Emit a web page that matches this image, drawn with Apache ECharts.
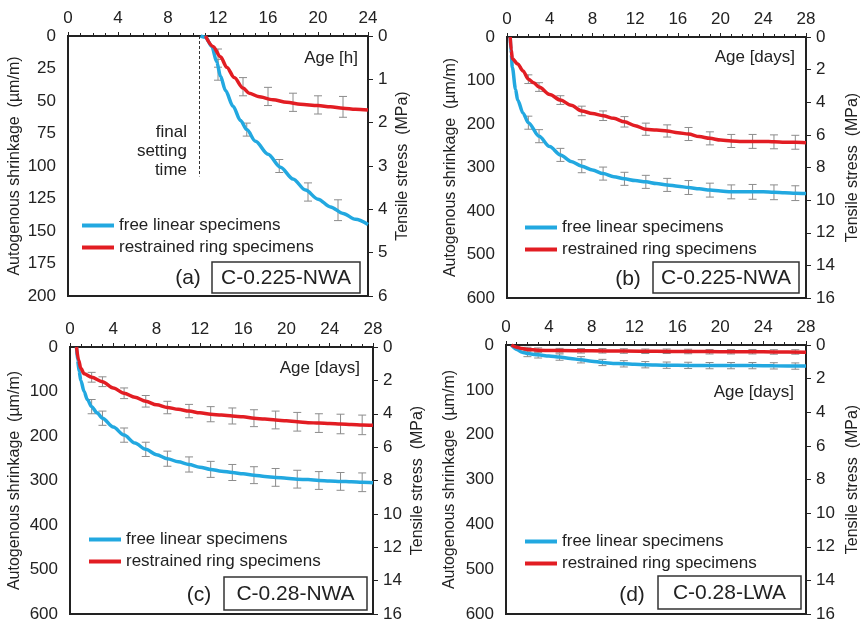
<!DOCTYPE html>
<html>
<head>
<meta charset="utf-8">
<script src="https://cdn.jsdelivr.net/npm/echarts@6/dist/echarts.min.js"></script>
<style>html,body{margin:0;padding:0;background:#fff}#c{width:862px;height:623px}</style>
</head>
<body>
<div id="c"></div>
<script>
// ---------- DATA ----------
const seriesNames = ['free linear specimens', 'restrained ring specimens'];
const panelLabels = ['(a)', '(b)', '(c)', '(d)'];
const mixLabels = ['C-0.225-NWA', 'C-0.225-NWA', 'C-0.28-NWA', 'C-0.28-LWA'];
const ageLabels = ['Age [h]', 'Age [days]', 'Age [days]', 'Age [days]'];
const leftAxisName = 'Autogenous shrinkage  (µm/m)';
const rightAxisName = 'Tensile stress  (MPa)';
const settingText = 'final\nsetting\ntime';
const settingTime = [10.5, 108]; // [age h, extent of dashed line in µm/m]

// Axis ranges: [max, interval]
const ageAxis = [[24, 4], [28, 4], [28, 4], [28, 4]];
const shrinkAxis = [[200, 25], [600, 100], [600, 100], [600, 100]];
const stressAxis = [[6, 1], [16, 2], [16, 2], [16, 2]];

// (a) C-0.225-NWA, age in hours  [age, shrinkage]
const freeA = [[10.6,0],[11.0,1],[11.5,8],[11.9,20],[12.2,31],[12.6,42],[13.2,54],[13.8,65],[14.3,72],[15.0,81],[16.0,91],[17.0,101],[18.0,110],[19.0,118.5],[20.0,125.5],[21.0,131.5],[22.0,136.5],[23.0,141],[24,145]];
const ringA = [[11.0,0],[11.6,8],[12.2,16],[12.7,24],[13.3,32],[14.0,40],[14.5,44],[15.2,46.5],[16.4,49],[17.5,51],[18.6,52.5],[20,53.5],[21,54.5],[22,55.5],[23,56.3],[24,57]];
// error bars [age, mean, half-range]
const freeErrA = [[12.0,26,8],[14.3,72,5],[16.9,100,5],[19.2,120,7],[21.6,134,8]];
const ringErrA = [[12.0,17,7],[14.0,39,7],[16.0,46.5,7],[18.0,51,7],[20.0,53,7],[22.0,54.5,8]];

// (b) C-0.225-NWA, age in days
const freeB = [[0.3,0],[0.4,40],[0.5,70],[0.8,120],[1,145],[1.5,175],[2,197],[3,228],[4,252],[5,271],[6,286],[7,297],[8,306],[9,314],[10,321],[11,326],[12,330],[13,333],[14,337],[15,340],[16,343],[17,346],[18,349],[19,352],[20,354],[21,356],[22,356],[23,356],[24,356],[25,357],[26,358],[27,359],[28,360]];
const ringB = [[0.3,0],[0.4,30],[0.5,50],[1,62],[1.5,78],[2,97],[2.5,105],[3,115],[4,132],[5,145],[6,157],[7,170],[8,176],[9,181],[10,187],[11,195],[12,204],[13,212],[14,214],[15,216],[16,220],[17,223],[18,229],[19,233],[20,237],[21,239],[22,240],[23,240],[24,240],[25,241],[26,242],[27,242],[28,243]];
const freeErrB = [[2,197,15],[3,228,15],[5,271,15],[7,297,15],[9,314,15],[11,326,15],[13,333,15],[15,340,15],[17,346,16],[19,352,16],[21,356,16],[23,356,17],[25,357,17],[27,359,17]];
const ringErrB = [[2,97,10],[3,115,10],[5,145,10],[7,170,11],[9,181,11],[11,195,12],[13,212,14],[15,216,14],[17,223,15],[19,233,15],[21,239,15],[23,240,16],[25,241,16],[27,242,16]];

// (c) C-0.28-NWA
const freeC = [[0.6,0],[0.7,30],[0.85,55],[1,75],[1.3,100],[1.6,118],[2,134],[2.5,148],[3,160],[4,180],[5,198],[6,216],[7,230],[8,242],[9,251],[10,258],[11,264],[12,270],[13,275],[14,279],[15,282],[16,285],[17,288],[18,291],[19,293],[20,295],[21,297],[22,298],[23,300],[24,301],[25,302],[26,303],[27,304],[28,305]];
const ringC = [[0.6,0],[0.8,30],[1,48],[1.3,60],[2,68],[3,78],[4,92],[5,104],[6,113],[7,122],[8,130],[9,136],[10,140],[11,144],[12,148],[13,151],[14,153],[15,155],[16,157],[17,160],[18,162],[19,164],[20,166],[21,168],[22,170],[23,171],[24,172],[25,173],[26,174],[27,175],[28,176]];
const freeErrC = [[2,134,16],[3,160,16],[5,198,16],[7,230,16],[9,251,17],[11,264,17],[13,275,18],[15,282,18],[17,288,19],[19,293,20],[21,297,20],[23,300,20],[25,302,20],[27,304,21]];
const ringErrC = [[2,68,11],[3,78,11],[5,104,12],[7,122,13],[9,136,14],[11,144,15],[13,151,17],[15,155,18],[17,160,19],[19,164,20],[21,168,21],[23,171,21],[25,173,22],[27,175,22]];

// (d) C-0.28-LWA
const freeD = [[0.5,0],[1,10],[1.5,16],[2,19],[3,22],[4,24.5],[5,27],[6,30],[7,33],[8,36],[9,39],[10,41],[11,42],[12,43],[13,44],[15,45],[17,45.5],[19,46],[21,46],[23,46],[25,46.5],[28,47]];
const ringD = [[0.5,0],[1,5],[1.5,8],[2,10],[3,11.5],[5,12.5],[8,13],[11,13.5],[14,14],[17,14.5],[20,15],[23,15],[25,15.5],[28,16]];
const freeErrD = [[2,19,7],[3,22,7],[5,27,7],[7,33,7],[9,39,7],[11,42,7],[13,44,7],[15,45,7],[17,45.5,7],[19,46,7],[21,46,7],[23,46,7],[25,46.5,7],[27,47,7]];
const ringErrD = [[2,10,5],[3,11.5,5],[5,12.5,5],[7,13,5],[9,13,5],[11,13.5,5],[13,14,5],[15,14,5],[17,14.5,5],[19,15,5],[21,15,5],[23,15,5],[25,15.5,5],[27,15.5,5]];

const freeData = [freeA, freeB, freeC, freeD];
const ringData = [ringA, ringB, ringC, ringD];
const freeErr = [freeErrA, freeErrB, freeErrC, freeErrD];
const ringErr = [ringErrA, ringErrB, ringErrC, ringErrD];

// ---------- LAYOUT / STYLE ----------
const FONT = '"Liberation Sans", Arial, Helvetica, sans-serif';
const BLUE = '#22a8e0', RED = '#e21d23', INK = '#222';
const layout = [
  {grid:{left:68,top:36,width:300,height:260}, lgap:45, rgap:27, legend:{left:82,top:217},
   age:{x:358,y:58}, lab:{x:188,y:278}, box:{x:212,y:262,w:148,h:31}},
  {grid:{left:507,top:37,width:299,height:261}, lgap:48, rgap:39, legend:{left:525,top:219},
   age:{x:795,y:57}, lab:{x:628,y:279}, box:{x:653,y:262,w:146,h:31}},
  {grid:{left:70,top:347,width:303,height:267}, lgap:47, rgap:37, legend:{left:89,top:531},
   age:{x:360,y:368}, lab:{x:199,y:595}, box:{x:224,y:577,w:143,h:33}},
  {grid:{left:506,top:345,width:304,height:269}, lgap:48, rgap:39, legend:{left:525,top:533},
   age:{x:794,y:392}, lab:{x:632,y:595}, box:{x:658,y:576,w:143,h:33}}
];

function renderErr(params, api) {
  const x = api.value(0), m = api.value(1), d = api.value(2);
  const p1 = api.coord([x, m - d]), p2 = api.coord([x, m + d]);
  const w = 4;
  const st = {stroke:'#8c8c8c', lineWidth:1};
  return {type:'group', children:[
    {type:'line', shape:{x1:p1[0],y1:p1[1],x2:p2[0],y2:p2[1]}, style:st},
    {type:'line', shape:{x1:p1[0]-w,y1:p1[1],x2:p1[0]+w,y2:p1[1]}, style:st},
    {type:'line', shape:{x1:p2[0]-w,y1:p2[1],x2:p2[0]+w,y2:p2[1]}, style:st}
  ]};
}

const grids = [], xAxes = [], yAxes = [], series = [], legends = [], graphics = [];
const labelStyle = {color:INK, fontSize:17, fontFamily:FONT};
const axisLine = {show:true, lineStyle:{color:INK, width:2}};

layout.forEach((L, i) => {
  grids.push(Object.assign({show:true, borderColor:INK, borderWidth:2, backgroundColor:'transparent'}, L.grid));
  xAxes.push({type:'value', gridIndex:i, position:'top', min:0, max:ageAxis[i][0], interval:ageAxis[i][1],
    axisLine:axisLine, axisTick:{show:true, length:4, lineStyle:{color:INK}},
    minorTick:{show:true, splitNumber:4, length:3, lineStyle:{color:INK}},
    splitLine:{show:false}, axisLabel:Object.assign({margin:9}, labelStyle)});
  yAxes.push({type:'value', gridIndex:i, position:'left', inverse:true, min:0, max:shrinkAxis[i][0], interval:shrinkAxis[i][1],
    axisLine:axisLine, axisTick:{show:false}, splitLine:{show:false},
    axisLabel:Object.assign({margin:12}, labelStyle),
    name:leftAxisName, nameLocation:'middle', nameGap:L.lgap, nameRotate:90,
    nameTextStyle:{color:INK, fontSize:16, fontFamily:FONT}});
  yAxes.push({type:'value', gridIndex:i, position:'right', inverse:true, min:0, max:stressAxis[i][0], interval:stressAxis[i][1],
    axisLine:axisLine, axisTick:{show:true, inside:false, length:5, lineStyle:{color:INK}}, splitLine:{show:false},
    axisLabel:Object.assign({margin:10}, labelStyle),
    name:rightAxisName, nameLocation:'middle', nameGap:L.rgap, nameRotate:90,
    nameTextStyle:{color:INK, fontSize:16, fontFamily:FONT}});

  series.push({type:'custom', xAxisIndex:i, yAxisIndex:2*i, renderItem:renderErr, data:freeErr[i], encode:{x:0,y:1}, z:1, silent:true});
  series.push({type:'custom', xAxisIndex:i, yAxisIndex:2*i, renderItem:renderErr, data:ringErr[i], encode:{x:0,y:1}, z:1, silent:true});

  const freeSeries = {type:'line', name:seriesNames[0], xAxisIndex:i, yAxisIndex:2*i, data:freeData[i],
    showSymbol:false, smooth:0.3, smoothMonotone:'x', z:3, lineStyle:{color:BLUE, width:3.5}, itemStyle:{color:BLUE}};
  if (i === 0) {
    freeSeries.markLine = {silent:true, symbol:'none', label:{show:false},
      lineStyle:{color:'#333', width:1, type:[3,2]},
      data:[[{coord:[settingTime[0], 0]}, {coord:[settingTime[0], settingTime[1]]}]]};
  }
  series.push(freeSeries);
  series.push({type:'line', name:seriesNames[1], xAxisIndex:i, yAxisIndex:2*i, data:ringData[i],
    showSymbol:false, smooth:0.3, smoothMonotone:'x', z:4, lineStyle:{color:RED, width:3.5}, itemStyle:{color:RED}});

  legends.push({data:seriesNames.slice(), left:L.legend.left, top:L.legend.top, orient:'vertical', selectedMode:false,
    icon:'rect', itemWidth:32, itemHeight:4, itemGap:5, padding:0,
    textStyle:{color:INK, fontSize:17, fontFamily:FONT, lineHeight:17}});

  graphics.push({type:'text', style:{text:ageLabels[i], x:L.age.x, y:L.age.y, align:'right', verticalAlign:'middle', fill:INK, font:'17px ' + FONT}});
  graphics.push({type:'text', style:{text:panelLabels[i], x:L.lab.x, y:L.lab.y, align:'center', verticalAlign:'middle', fill:INK, font:'21px ' + FONT}});
  graphics.push({type:'rect', shape:{x:L.box.x, y:L.box.y, width:L.box.w, height:L.box.h}, style:{fill:'#fff', stroke:'#333', lineWidth:1.5}, z:10});
  graphics.push({type:'text', style:{text:mixLabels[i], x:L.box.x + L.box.w/2, y:L.box.y + L.box.h/2 + 1, align:'center', verticalAlign:'middle', fill:INK, font:'21px ' + FONT}, z:11});
});

graphics.push({type:'text', style:{text:settingText, x:187, y:151, align:'right', verticalAlign:'middle', fill:INK, font:'17px ' + FONT, lineHeight:19}});

const chart = echarts.init(document.getElementById('c'), null, {renderer:'canvas'});
chart.setOption({
  animation:false,
  backgroundColor:'#fff',
  textStyle:{fontFamily:FONT},
  grid:grids, xAxis:xAxes, yAxis:yAxes, series:series, legend:legends, graphic:graphics
});
</script>
</body>
</html>
